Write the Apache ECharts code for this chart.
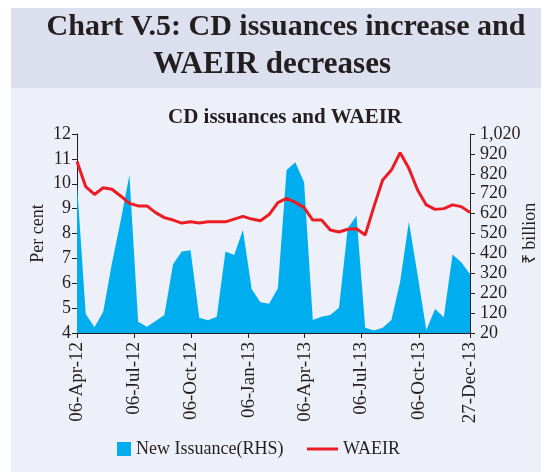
<!DOCTYPE html>
<html>
<head>
<meta charset="utf-8">
<script src="https://cdn.jsdelivr.net/npm/echarts@6/dist/echarts.min.js"></script>
<style>
  html, body { margin: 0; padding: 0; background: #fff; }
  #chart { width: 541px; height: 472px; }
</style>
</head>
<body>
<div id="chart"></div>
<script>
// fortnightly reporting dates
var dates = [
  '2012-04-06', '2012-04-20', '2012-05-04', '2012-05-18', '2012-06-01', '2012-06-15',
  '2012-06-29', '2012-07-13', '2012-07-27', '2012-08-10', '2012-08-24', '2012-09-07',
  '2012-09-21', '2012-10-05', '2012-10-19', '2012-11-02', '2012-11-16', '2012-11-30',
  '2012-12-14', '2012-12-28', '2013-01-11', '2013-01-25', '2013-02-08', '2013-02-22',
  '2013-03-08', '2013-03-22', '2013-04-05', '2013-04-19', '2013-05-03', '2013-05-17',
  '2013-05-31', '2013-06-14', '2013-06-28', '2013-07-12', '2013-07-26', '2013-08-09',
  '2013-08-23', '2013-09-06', '2013-09-20', '2013-10-04', '2013-10-18', '2013-11-01',
  '2013-11-15', '2013-11-29', '2013-12-13', '2013-12-27'
]
// new issuance, Rs billion (right axis)
var issuance = [
  770, 115, 49, 127, 370, 584, 814, 77, 52, 80,
  110, 365, 429, 436, 97, 84, 102, 429, 412, 538,
  241, 174, 167, 245, 839, 878, 777, 85, 102, 110,
  147, 546, 609, 47, 32, 47, 85, 278, 579, 311,
  35, 141, 99, 415, 375, 315
]
// WAEIR, per cent (left axis)
var waeir = [
  10.89, 9.88, 9.57, 9.84, 9.78, 9.51, 9.21, 9.11, 9.11, 8.84,
  8.64, 8.54, 8.42, 8.47, 8.42, 8.47, 8.47, 8.47, 8.58, 8.69,
  8.58, 8.51, 8.76, 9.24, 9.41, 9.25, 9.04, 8.54, 8.54, 8.14,
  8.06, 8.17, 8.19, 7.94, 9.08, 10.15, 10.55, 11.25, 10.62, 9.75,
  9.15, 8.97, 9.0, 9.15, 9.08, 8.84
]
var tickDates = ['2012-04-06', '2012-07-06', '2012-10-06', '2013-01-06',
  '2013-04-06', '2013-07-06', '2013-10-06', '2013-12-27']

var serif = "'Liberation Serif', 'Times New Roman', serif"
var ink = '#231f20'
var months = ['Jan', 'Feb', 'Mar', 'Apr', 'May', 'Jun', 'Jul', 'Aug', 'Sep', 'Oct', 'Nov', 'Dec']

// dates as day numbers (UTC) so a plain value axis can carry them
function toDay (s) {
  var p = s.split('-')
  return Date.UTC(+p[0], +p[1] - 1, +p[2]) / 86400000
}
function fmtDate (v) {
  var d = new Date(Math.round(v) * 86400000)
  var dd = d.getUTCDate()
  return (dd < 10 ? '0' + dd : dd) + '-' + months[d.getUTCMonth()] + '-' + String(d.getUTCFullYear()).slice(2)
}

var ticks = tickDates.map(toDay)
var issData = []
var rateData = []
for (var i = 0; i < dates.length; i++) {
  issData.push([toDay(dates[i]), issuance[i]])
  rateData.push([toDay(dates[i]), waeir[i]])
}

var chart = echarts.init(document.getElementById('chart'))
chart.setOption({
  backgroundColor: '#fff',
  animation: false,
  graphic: [
    { type: 'rect', left: 11, top: 8, shape: { width: 530, height: 80 }, style: { fill: '#dcdfee' }, z: -10 },
    { type: 'rect', left: 11, top: 88, shape: { width: 530, height: 384 }, style: { fill: '#edf0f8' }, z: -10 }
  ],
  title: [
    {
      text: 'Chart V.5: CD issuances increase and',
      left: 281, top: 7, textAlign: 'center',
      textStyle: { fontFamily: serif, fontSize: 30, fontWeight: 'bold', color: ink }
    },
    {
      text: 'WAEIR decreases',
      left: 267, top: 44, textAlign: 'center',
      textStyle: { fontFamily: serif, fontSize: 31, fontWeight: 'bold', color: ink }
    },
    {
      text: 'CD issuances and WAEIR',
      left: 280, top: 102, textAlign: 'center',
      textStyle: { fontFamily: serif, fontSize: 21, fontWeight: 'bold', color: ink }
    }
  ],
  legend: [
    {
      data: ['New Issuance(RHS)'],
      left: 112, top: 435,
      itemWidth: 14, itemHeight: 14, itemGap: 5,
      icon: 'rect',
      textStyle: { fontFamily: serif, fontSize: 18, color: ink }
    },
    {
      data: ['WAEIR'],
      left: 302, top: 435,
      itemWidth: 31, itemHeight: 3,
      icon: 'rect',
      textStyle: { fontFamily: serif, fontSize: 18, color: ink }
    }
  ],
  grid: { left: 77, right: 71, top: 134, bottom: 139, outerBoundsMode: 'none' },
  xAxis: {
    type: 'value',
    min: ticks[0],
    max: ticks[ticks.length - 1],
    axisLine: { lineStyle: { color: ink, width: 1 } },
    axisTick: { show: true, length: 5, customValues: ticks, lineStyle: { color: ink } },
    splitLine: { show: false },
    axisLabel: {
      customValues: ticks,
      rotate: 90,
      margin: 9,
      fontFamily: serif,
      fontSize: 19,
      color: ink,
      formatter: function (v) { return fmtDate(v) }
    }
  },
  yAxis: [
    {
      type: 'value',
      min: 4, max: 12, interval: 1,
      name: 'Per cent',
      nameLocation: 'middle',
      nameGap: 30,
      nameMoveOverlap: false,
      nameTextStyle: { fontFamily: serif, fontSize: 18, color: ink },
      axisLine: { show: true, lineStyle: { color: ink } },
      axisTick: { show: true, length: 5, lineStyle: { color: ink } },
      splitLine: { show: false },
      axisLabel: { margin: 6, fontFamily: serif, fontSize: 18, color: ink }
    },
    {
      type: 'value',
      position: 'right',
      min: 20, max: 1020, interval: 100,
      name: '\u20b9 billion',
      nameLocation: 'middle',
      nameGap: 51,
      nameRotate: 90,
      nameMoveOverlap: false,
      nameTextStyle: { fontFamily: serif, fontSize: 18, color: ink },
      axisLine: { show: true, lineStyle: { color: ink } },
      axisTick: { show: true, length: 5, lineStyle: { color: ink } },
      splitLine: { show: false },
      axisLabel: {
        margin: 10, fontFamily: serif, fontSize: 18, color: ink,
        formatter: function (v) { return v.toLocaleString('en-US') }
      }
    }
  ],
  series: [
    {
      name: 'New Issuance(RHS)',
      type: 'line',
      yAxisIndex: 1,
      data: issData,
      symbol: 'none',
      lineStyle: { width: 0, color: '#00aeef' },
      itemStyle: { color: '#00aeef' },
      areaStyle: { color: '#00aeef', opacity: 1, origin: 'start' },
      z: 1
    },
    {
      name: 'WAEIR',
      type: 'line',
      yAxisIndex: 0,
      data: rateData,
      symbol: 'none',
      lineStyle: { width: 3, color: '#ed1c24' },
      itemStyle: { color: '#ed1c24' },
      z: 2
    }
  ]
})
</script>
</body>
</html>
